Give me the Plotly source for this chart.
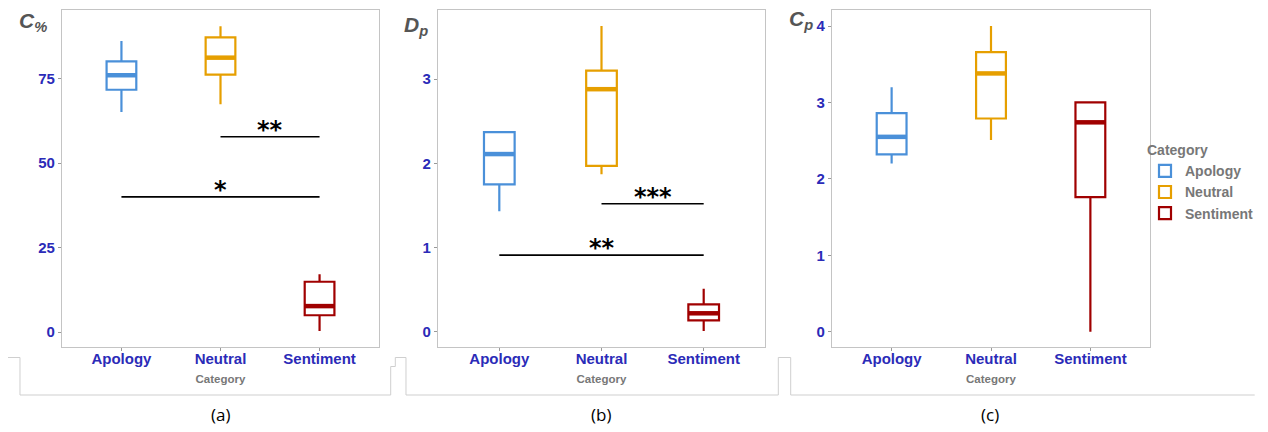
import plotly.graph_objects as go

# the page puts the figure 8px from the top-left corner
OFF = 8
W, H = 1260, 424

categories = ["Apology", "Neutral", "Sentiment"]
colors = ["#4A90D9", "#E69F00", "#A00000"]

# Panel (a): C%  -> [lower whisker, Q1, median, Q3, upper whisker]
a_low = [65.1, 67.4, 0.3]
a_q1 = [71.7, 76.2, 5.0]
a_med = [76.0, 81.2, 7.7]
a_q3 = [80.1, 87.2, 14.9]
a_high = [86.1, 90.5, 17.1]

# Panel (b): Dp
b_low = [1.43, 1.87, 0.01]
b_q1 = [1.75, 1.97, 0.135]
b_med = [2.11, 2.88, 0.22]
b_q3 = [2.37, 3.10, 0.325]
b_high = [2.37, 3.63, 0.51]

# Panel (c): Cp
c_low = [2.20, 2.51, 0.0]
c_q1 = [2.32, 2.79, 1.76]
c_med = [2.55, 3.38, 2.74]
c_q3 = [2.86, 3.66, 3.00]
c_high = [3.20, 4.00, 3.00]

# significance brackets: (from category idx, to category idx, height, label)
a_sig_from = [1, 0]
a_sig_to = [2, 2]
a_sig_y = [57.8, 40.0]
a_sig_lab = ["**", "*"]
b_sig_from = [1, 0]
b_sig_to = [2, 2]
b_sig_y = [1.52, 0.91]
b_sig_lab = ["***", "**"]

a_ticks = [0, 25, 50, 75]
b_ticks = [0, 1, 2, 3]
c_ticks = [0, 1, 2, 3, 4]

BOXW = 0.3


def px(x):
    return (x - OFF) / W


def py(y):
    return 1 - (y - OFF) / H


fig = go.Figure()

panels = [
    dict(ax="", low=a_low, q1=a_q1, med=a_med, q3=a_q3, high=a_high,
         rng=[-4.4, 95.3], ticks=a_ticks, dom=[px(62), px(379)],
         sig=(a_sig_from, a_sig_to, a_sig_y, a_sig_lab)),
    dict(ax="2", low=b_low, q1=b_q1, med=b_med, q3=b_q3, high=b_high,
         rng=[-0.18, 3.82], ticks=b_ticks, dom=[px(438), px(765)],
         sig=(b_sig_from, b_sig_to, b_sig_y, b_sig_lab)),
    dict(ax="3", low=c_low, q1=c_q1, med=c_med, q3=c_q3, high=c_high,
         rng=[-0.2, 4.21], ticks=c_ticks, dom=[px(832), px(1150)],
         sig=None),
]

tick_font = dict(family="Liberation Sans, Arial", size=15, color="#2B2BB8", weight="bold")

for pi, p in enumerate(panels):
    xa = "x" + p["ax"]
    ya = "y" + p["ax"]
    for i, cat in enumerate(categories):
        fig.add_trace(go.Box(
            x=[i], q1=[p["q1"][i]], median=[p["med"][i]], q3=[p["q3"][i]],
            lowerfence=[p["low"][i]], upperfence=[p["high"][i]],
            name=cat, legendgroup=cat, showlegend=(pi == 2),
            line=dict(color=colors[i], width=2.2), fillcolor="white",
            whiskerwidth=0, width=BOXW, boxpoints=False,
            xaxis=xa, yaxis=ya, hoverinfo="skip",
        ))
        # thick median bar
        fig.add_trace(go.Scatter(
            x=[i - BOXW / 2, i + BOXW / 2], y=[p["med"][i], p["med"][i]],
            mode="lines", line=dict(color=colors[i], width=4.5),
            showlegend=False, xaxis=xa, yaxis=ya, hoverinfo="skip",
        ))
    if p["sig"]:
        f, t, ys, labs = p["sig"]
        for k in range(len(f)):
            fig.add_trace(go.Scatter(
                x=[f[k], t[k]], y=[ys[k], ys[k]], mode="lines",
                line=dict(color="black", width=1.6),
                showlegend=False, xaxis=xa, yaxis=ya, hoverinfo="skip",
            ))
            fig.add_annotation(
                x=(f[k] + t[k]) / 2, y=ys[k], xref=xa, yref=ya,
                text=labs[k], showarrow=False, yanchor="middle", yshift=7,
                font=dict(family="DejaVu Sans", size=24, color="black", weight="bold"),
            )
    axis_x = dict(
        domain=p["dom"], range=[-0.6, 2.6], tickmode="array",
        tickvals=[0, 1, 2], ticktext=categories, tickfont=tick_font,
        showline=True, mirror=True, linecolor="#C4C4C4", linewidth=1.2,
        ticks="outside", ticklen=3, tickcolor="#999999", showgrid=False,
        zeroline=False, anchor=ya, ticklabelstandoff=-5,
        title=dict(text="Category", standoff=8,
                   font=dict(family="Liberation Sans, Arial", size=11.5, color="#777777", weight="bold")),
    )
    axis_y = dict(
        domain=[py(347), py(10)], range=p["rng"], tickmode="array",
        tickvals=p["ticks"], tickfont=tick_font,
        showline=True, mirror=True, linecolor="#C4C4C4", linewidth=1.2,
        ticks="outside", ticklen=3, tickcolor="#999999", showgrid=False,
        zeroline=False, anchor=xa,
    )
    fig.layout["xaxis" + p["ax"]] = axis_x
    fig.layout["yaxis" + p["ax"]] = axis_y

title_font = dict(family="Liberation Sans, Arial", size=21, color="#555555", weight="bold")
ytitles = [
    ("<i>C</i><sub><i>%</i></sub>", 33, 22),
    ("<i>D</i><sub><i>p</i></sub>", 416, 26),
    ("<i>C</i><sub><i>p</i></sub>", 801, 20),
]
for txt, x, y in ytitles:
    fig.add_annotation(x=px(x), y=py(y), xref="paper", yref="paper", text=txt,
                       showarrow=False, xanchor="center", yanchor="middle", font=title_font)

for txt, x in [("(a)", 220), ("(b)", 601), ("(c)", 990)]:
    fig.add_annotation(x=px(x), y=py(414), xref="paper", yref="paper", text=txt,
                       showarrow=False, xanchor="center", yanchor="middle",
                       font=dict(family="Open Sans, Liberation Sans", size=17, color="black"))

# light frame lines of the figure layout
frame_pts = [(8, 357.5), (20, 357.5), (20, 395), (390.7, 395), (390.7, 366.5),
             (395.3, 366.5), (395.3, 357.5), (406, 357.5), (406, 395), (778.3, 395),
             (778.3, 357.5), (790.7, 357.5), (790.7, 395), (1254.7, 395)]
path = "M " + " L ".join(f"{px(x):.5f},{py(y):.5f}" for x, y in frame_pts)
fig.add_shape(type="path", path=path, xref="paper", yref="paper",
              line=dict(color="#CFCFCF", width=1))

fig.update_layout(
    width=W, height=H, margin=dict(l=0, r=0, t=0, b=0),
    paper_bgcolor="white", plot_bgcolor="white",
    legend=dict(
        x=px(1145), y=py(137), xanchor="left", yanchor="top",
        title=dict(text="Category", font=dict(family="Liberation Sans, Arial", size=14, color="#777777", weight="bold")),
        font=dict(family="Liberation Sans, Arial", size=14, color="#777777", weight="bold"),
        bgcolor="rgba(0,0,0,0)", tracegroupgap=0, itemwidth=30,
    ),
)

fig.write_html("out.html")
